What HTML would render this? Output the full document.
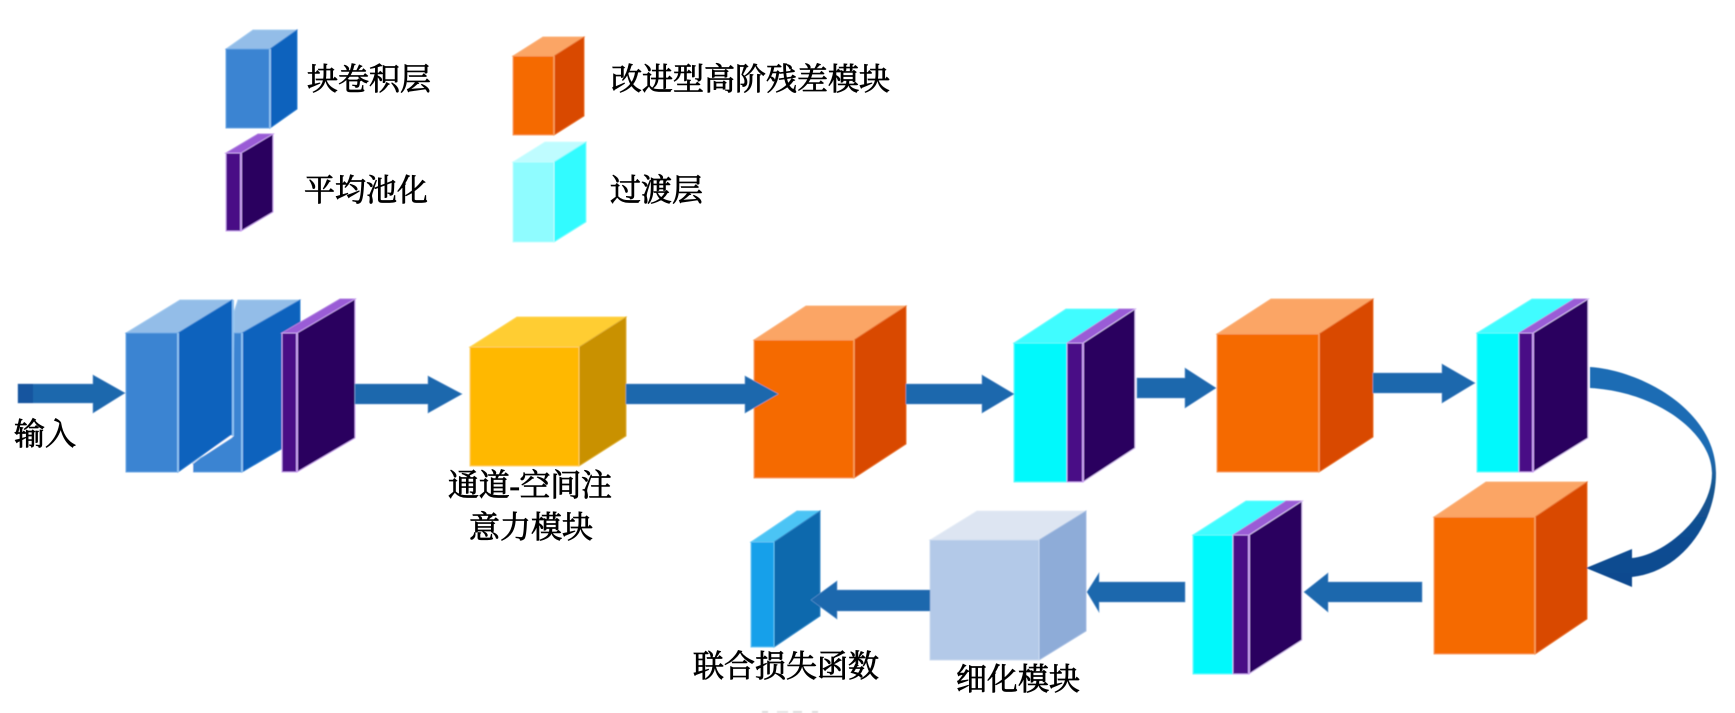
<!DOCTYPE html>
<html>
<head>
<meta charset="utf-8">
<style>
html,body{margin:0;padding:0;background:#fff;width:1735px;height:713px;overflow:hidden}
svg{display:block}
text{font-family:"Liberation Serif","Noto Serif CJK SC","Noto Sans CJK SC",serif;font-size:31px;fill:#000;stroke:#000;stroke-width:.75px}
.bf{fill:#3a84d2;stroke:#6aa6e4}.bt{fill:#93bde8;stroke:#a8cdf0}.bs{fill:#0a62bd;stroke:#2f7fd0}
.of{fill:#f56b00;stroke:#f9a060}.ot{fill:#fba565;stroke:#fbb580}.os{fill:#d94a00;stroke:#e8702a}
.pf{fill:#4a0a86;stroke:#c9a0f0}.pt{fill:#9a5bd6;stroke:#b080e0}.ps{fill:#2a055f;stroke:#d8c0f5}
.cf{fill:#05f9fc;stroke:#60fafc}.ct{fill:#3ffcff;stroke:#70fcfe}
.lf{fill:#8ffcff;stroke:#c0feff}.lt{fill:#bffcff;stroke:#d0feff}.ls{fill:#33fbff;stroke:#80fdff}
.yf{fill:#ffb800;stroke:#ffd060}.yt{fill:#ffcd30;stroke:#ffd860}.ys{fill:#c99100;stroke:#e0b030}
.gf{fill:#b3c9e8;stroke:#cddcf0}.gt{fill:#dde5f2;stroke:#e8eef7}.gs{fill:#8eacd8;stroke:#a8c0e4}
.ff{fill:#15a0ea;stroke:#60c4f4}.ft{fill:#4cc4f5;stroke:#70d0f8}.fs{fill:#0d69ad;stroke:#3088c8}
.ar{fill:#1f68ad;stroke:#5a94cc;stroke-width:.6}
.lb{stroke:#8cc0f0;stroke-width:2}.lo{stroke:#f9a060;stroke-width:1.6}.lp{stroke:#c9a0f0;stroke-width:2}
</style>
</head>
<body>
<svg width="1735" height="713" viewBox="0 0 1735 713" xmlns="http://www.w3.org/2000/svg">
<defs>
<linearGradient id="cv" x1="0" y1="0" x2="0" y2="1">
<stop offset="0" stop-color="#1f6cb4"/><stop offset=".38" stop-color="#1f6cb4"/><stop offset=".55" stop-color="#17568f"/><stop offset=".75" stop-color="#0f4d92"/><stop offset="1" stop-color="#0d4a8f"/>
</linearGradient>
<filter id="soft" x="-2%" y="-2%" width="104%" height="104%"><feGaussianBlur stdDeviation="0.6"/></filter>
</defs>
<g filter="url(#soft)">
<!-- legend -->
<polygon class="bt" points="226,49 270,49 297,30 253,30"/>
<polygon class="bs" points="270,49 297,30 297,109 270,128"/>
<rect class="bf" x="226" y="49" width="44" height="79"/>
<line class="lb" x1="270" y1="49" x2="270" y2="128"/>

<polygon class="ot" points="513,56 554,56 584,37 543,37"/>
<polygon class="os" points="554,56 584,37 584,116 554,135"/>
<rect class="of" x="513" y="56" width="41" height="79"/>
<line class="lo" x1="554" y1="56" x2="554" y2="135"/>

<polygon class="pt" points="226,153 241,153 273,134 258,134"/>
<polygon class="ps" style="stroke:#c9a0f0" points="241,153 273,134 273,212 241,231"/>
<rect class="pf" x="226" y="153" width="15" height="78"/>
<line class="lp" x1="241" y1="153" x2="241" y2="231"/>

<polygon class="lt" points="513,162 554,162 586,142 545,142"/>
<polygon class="ls" points="554,162 586,142 586,222 554,242"/>
<rect class="lf" x="513" y="162" width="41" height="80"/>

<!-- block 2 (behind) -->
<polygon class="bt" points="234,333 242,333 300,300 238,300 234,312"/>
<polygon class="bs" points="242,333 300,300 300,438 242,472"/>
<polygon class="bf" points="193,472 193,463 232,438 234,333 242,333 242,472"/>
<line class="lb" x1="242" y1="333" x2="242" y2="472"/>
<!-- block 1 -->
<polygon points="180,474 193,474 193,463 234,436 229,436" fill="#fff"/>
<polygon class="bt" points="126,333 178,333 232,300 180,300"/>
<polygon class="bs" points="178,333 232,300 232,434 178,472"/>
<rect class="bf" x="126" y="333" width="52" height="139"/>
<line class="lb" x1="178" y1="333" x2="178" y2="472"/>
<line class="lb" x1="233" y1="300" x2="233" y2="436"/>
<!-- purple 1 -->
<polygon class="pt" points="282,333 297,333 355,299 340,299"/>
<polygon class="ps" style="stroke:#c9a0f0" points="297,333 355,299 355,438 297,472"/>
<rect class="pf" x="282" y="333" width="15" height="139"/>
<line class="lp" x1="297" y1="333" x2="297" y2="472"/>

<!-- yellow -->
<polygon class="yt" points="470,347 579,347 626,317 517,317"/>
<polygon class="ys" points="579,347 626,317 626,436 579,466"/>
<rect class="yf" x="470" y="347" width="109" height="119"/>

<!-- orange 1 -->
<polygon class="ot" points="754,340 854,340 906,306 806,306"/>
<polygon class="os" points="854,340 906,306 906,444 854,478"/>
<rect class="of" x="754" y="340" width="100" height="138"/>
<line class="lo" x1="854" y1="340" x2="854" y2="478"/>

<!-- cyan+purple 1 -->
<polygon class="ct" points="1014,343 1067,343 1119,309 1066,309"/>
<polygon class="pt" points="1067,343 1083,343 1135,309 1119,309"/>
<polygon class="ps" points="1083,343 1135,309 1135,448 1083,482"/>
<rect class="cf" x="1014" y="343" width="53" height="139"/>
<rect class="pf" x="1067" y="343" width="16" height="139"/>
<line class="lp" x1="1083" y1="343" x2="1083" y2="482"/>

<!-- orange 2 -->
<polygon class="ot" points="1217,334 1319,334 1373,299 1271,299"/>
<polygon class="os" points="1319,334 1373,299 1373,437 1319,472"/>
<rect class="of" x="1217" y="334" width="102" height="138"/>
<line class="lo" x1="1319" y1="334" x2="1319" y2="472"/>

<!-- cyan+purple 2 -->
<polygon class="ct" points="1477,333 1519,333 1574,299 1532,299"/>
<polygon class="pt" points="1519,333 1533,333 1588,299 1574,299"/>
<polygon class="ps" points="1533,333 1588,299 1588,438 1533,472"/>
<rect class="cf" x="1477" y="333" width="42" height="139"/>
<rect class="pf" x="1519" y="333" width="14" height="139"/>
<line class="lp" x1="1533" y1="333" x2="1533" y2="472"/>

<!-- orange 3 -->
<polygon class="ot" points="1434,517 1535,517 1587,482 1486,482"/>
<polygon class="os" points="1535,517 1587,482 1587,619 1535,654"/>
<rect class="of" x="1434" y="517" width="101" height="137"/>
<line class="lo" x1="1535" y1="517" x2="1535" y2="654"/>

<!-- cyan+purple 3 -->
<polygon class="ct" points="1193,535 1233,535 1286,501 1246,501"/>
<polygon class="pt" points="1233,535 1249,535 1302,501 1286,501"/>
<polygon class="ps" points="1249,535 1302,501 1302,640 1249,674"/>
<rect class="cf" x="1193" y="535" width="40" height="139"/>
<rect class="pf" x="1233" y="535" width="16" height="139"/>
<line class="lp" x1="1249" y1="535" x2="1249" y2="674"/>

<!-- refine module -->
<polygon class="gt" points="930,540 1039,540 1086,511 977,511"/>
<polygon class="gs" points="1039,540 1086,511 1086,631 1039,660"/>
<rect class="gf" x="930" y="540" width="109" height="120"/>

<!-- final -->
<polygon class="ft" points="751,542 774,542 820,511 797,511"/>
<polygon class="fs" points="774,542 820,511 820,616 774,647"/>
<rect class="ff" x="751" y="542" width="23" height="105"/>

<!-- arrows -->
<polygon class="ar" points="18,384 93,384 93,375 125,393 93,413 93,403 18,403"/>
<rect x="18" y="384" width="15" height="19" fill="#14559f"/>
<polygon class="ar" points="355,384 428,384 428,376 462,394 428,413 428,404 355,404"/>
<polygon class="ar" points="626,384 745,384 745,376 778,394 745,413 745,404 626,404"/>
<polygon class="ar" points="906,384 982,384 982,375 1014,394 982,413 982,404 906,404"/>
<polygon class="ar" points="1137,378 1185,378 1185,368 1216,388 1185,408 1185,398 1137,398"/>
<polygon class="ar" points="1373,373 1442,373 1442,364 1475,383 1442,403 1442,393 1373,393"/>
<polygon class="ar" points="1422,582 1328,582 1328,573 1304,592 1328,612 1328,602 1422,602"/>
<polygon class="ar" points="1185,582 1099,582 1099,573 1087,592 1099,612 1099,602 1185,602"/>
<polygon class="ar" points="930,590 837,590 837,581 811,600 837,619 837,611 930,611"/>
<path d="M1590,367 C1640,370 1716,410 1716,473 C1716,525 1680,572 1632,577 L1632,587 L1586,568 L1632,549 L1632,558 C1665,555 1712,515 1712,473 C1712,435 1660,392 1590,388 Z" fill="url(#cv)"/>
<rect x="762" y="711" width="6" height="2" fill="#ddd"/>
<rect x="777" y="711" width="11" height="2" fill="#e4e4e4"/>
<rect x="793" y="711" width="9" height="2" fill="#ddd"/>
<rect x="812" y="711" width="6" height="2" fill="#ddd"/>
</g>

<!-- labels -->
<text x="307" y="90">块卷积层</text>
<text x="611" y="90">改进型高阶残差模块</text>
<text x="304" y="201">平均池化</text>
<text x="610" y="201">过渡层</text>
<text x="14" y="445">输入</text>
<text x="448" y="496" textLength="164" lengthAdjust="spacing">通道-空间注</text>
<text x="469" y="538">意力模块</text>
<text x="693" y="677">联合损失函数</text>
<text x="956" y="690">细化模块</text>
</svg>
</body>
</html>
